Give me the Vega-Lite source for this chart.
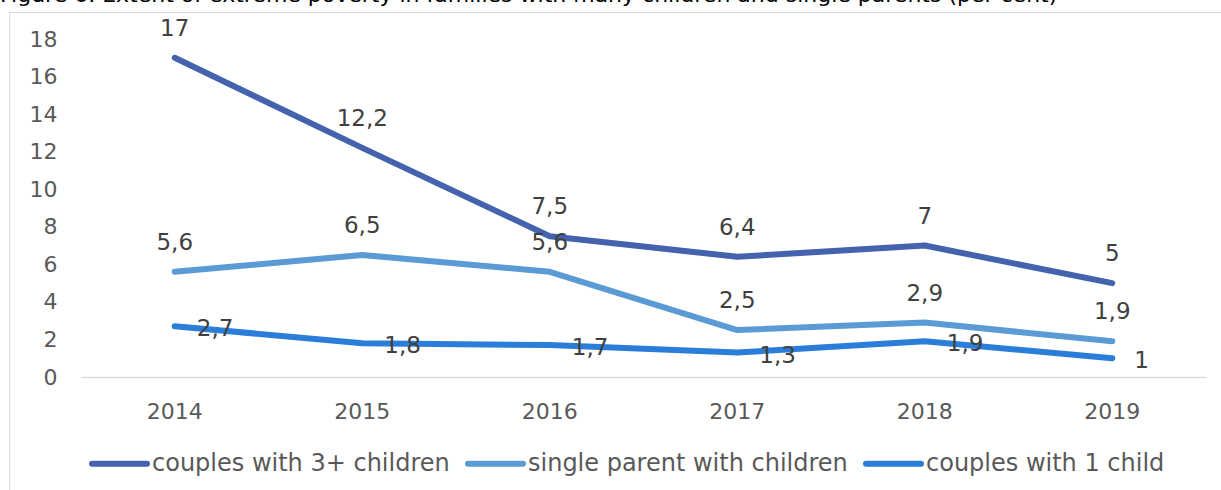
{
  "$schema": "https://vega.github.io/schema/vega-lite/v6.json",
  "autosize": {"type": "none"},
  "padding": {"left": 9, "top": 12, "right": 0, "bottom": 0},
  "width": 1212,
  "height": 478,
  "background": "#ffffff",
  "config": {
    "font": "DejaVu Sans",
    "view": {"stroke": "#d9d9d9", "strokeWidth": 1}
  },
  "title": {
    "text": "Figure 6. Extent of extreme poverty in families with many children and single parents (per cent)",
    "anchor": "start",
    "frame": "group",
    "orient": "top",
    "offset": -17,
    "baseline": "bottom",
    "dx": -9,
    "fontSize": 22,
    "fontWeight": "normal",
    "color": "#000000",
    "font": "DejaVu Sans"
  },
  "data": {
    "values": [
      {"year": "2014", "series": "couples with 3+ children", "v": 17, "lbl": "17"},
      {"year": "2015", "series": "couples with 3+ children", "v": 12.2, "lbl": "12,2"},
      {"year": "2016", "series": "couples with 3+ children", "v": 7.5, "lbl": "7,5"},
      {"year": "2017", "series": "couples with 3+ children", "v": 6.4, "lbl": "6,4"},
      {"year": "2018", "series": "couples with 3+ children", "v": 7, "lbl": "7"},
      {"year": "2019", "series": "couples with 3+ children", "v": 5, "lbl": "5"},
      {"year": "2014", "series": "single parent with children", "v": 5.6, "lbl": "5,6"},
      {"year": "2015", "series": "single parent with children", "v": 6.5, "lbl": "6,5"},
      {"year": "2016", "series": "single parent with children", "v": 5.6, "lbl": "5,6"},
      {"year": "2017", "series": "single parent with children", "v": 2.5, "lbl": "2,5"},
      {"year": "2018", "series": "single parent with children", "v": 2.9, "lbl": "2,9"},
      {"year": "2019", "series": "single parent with children", "v": 1.9, "lbl": "1,9"},
      {"year": "2014", "series": "couples with 1 child", "v": 2.7, "lbl": "2,7"},
      {"year": "2015", "series": "couples with 1 child", "v": 1.8, "lbl": "1,8"},
      {"year": "2016", "series": "couples with 1 child", "v": 1.7, "lbl": "1,7"},
      {"year": "2017", "series": "couples with 1 child", "v": 1.3, "lbl": "1,3"},
      {"year": "2018", "series": "couples with 1 child", "v": 1.9, "lbl": "1,9"},
      {"year": "2019", "series": "couples with 1 child", "v": 1, "lbl": "1"}
    ]
  },
  "encoding": {
    "x": {
      "field": "year",
      "type": "ordinal",
      "scale": {"type": "band", "range": [72, 1197], "paddingInner": 0, "paddingOuter": 0},
      "axis": {
        "title": null,
        "orient": "bottom",
        "offset": -113,
        "domainColor": "#d9d9d9",
        "domainWidth": 1.5,
        "ticks": false,
        "grid": false,
        "labelAngle": 0,
        "labelFontSize": 22,
        "labelColor": "#595959",
        "labelBaseline": "alphabetic",
        "labelPadding": 41
      }
    },
    "y": {
      "field": "v",
      "type": "quantitative",
      "scale": {"domain": [0, 18], "range": [365, 27], "nice": false, "zero": true},
      "axis": {
        "title": null,
        "values": [0, 2, 4, 6, 8, 10, 12, 14, 16, 18],
        "grid": false,
        "domain": false,
        "ticks": false,
        "offset": -48,
        "labelPadding": 0,
        "labelFontSize": 22,
        "labelColor": "#595959"
      }
    }
  },
  "layer": [
    {
      "mark": {"type": "line", "strokeWidth": 6, "strokeCap": "round", "strokeJoin": "round"},
      "encoding": {
        "color": {
          "field": "series",
          "type": "nominal",
          "scale": {
            "domain": ["couples with 3+ children", "single parent with children", "couples with 1 child"],
            "range": ["#4462ad", "#5b9bd5", "#2a7dd8"]
          },
          "legend": {
            "title": null,
            "orient": "none",
            "legendX": 80,
            "legendY": 421,
            "direction": "horizontal",
            "symbolType": "stroke",
            "symbolSize": 3025,
            "symbolStrokeWidth": 6,
            "labelFontSize": 24,
            "labelColor": "#595959",
            "labelOffset": 2,
            "columnPadding": 6,
            "labelLimit": 400,
            "encode": {"symbols": {"update": {"strokeCap": {"value": "round"}}}}
          }
        }
      }
    },
    {
      "transform": [{"filter": "datum.series !== 'couples with 1 child'"}],
      "mark": {"type": "text", "align": "center", "baseline": "alphabetic", "dy": -22, "fontSize": 23, "color": "#404040"},
      "encoding": {"text": {"field": "lbl"}}
    },
    {
      "transform": [{"filter": "datum.series === 'couples with 1 child'"}],
      "mark": {"type": "text", "align": "left", "baseline": "alphabetic", "dx": 22, "dy": 10, "fontSize": 23, "color": "#404040"},
      "encoding": {"text": {"field": "lbl"}}
    }
  ]
}
